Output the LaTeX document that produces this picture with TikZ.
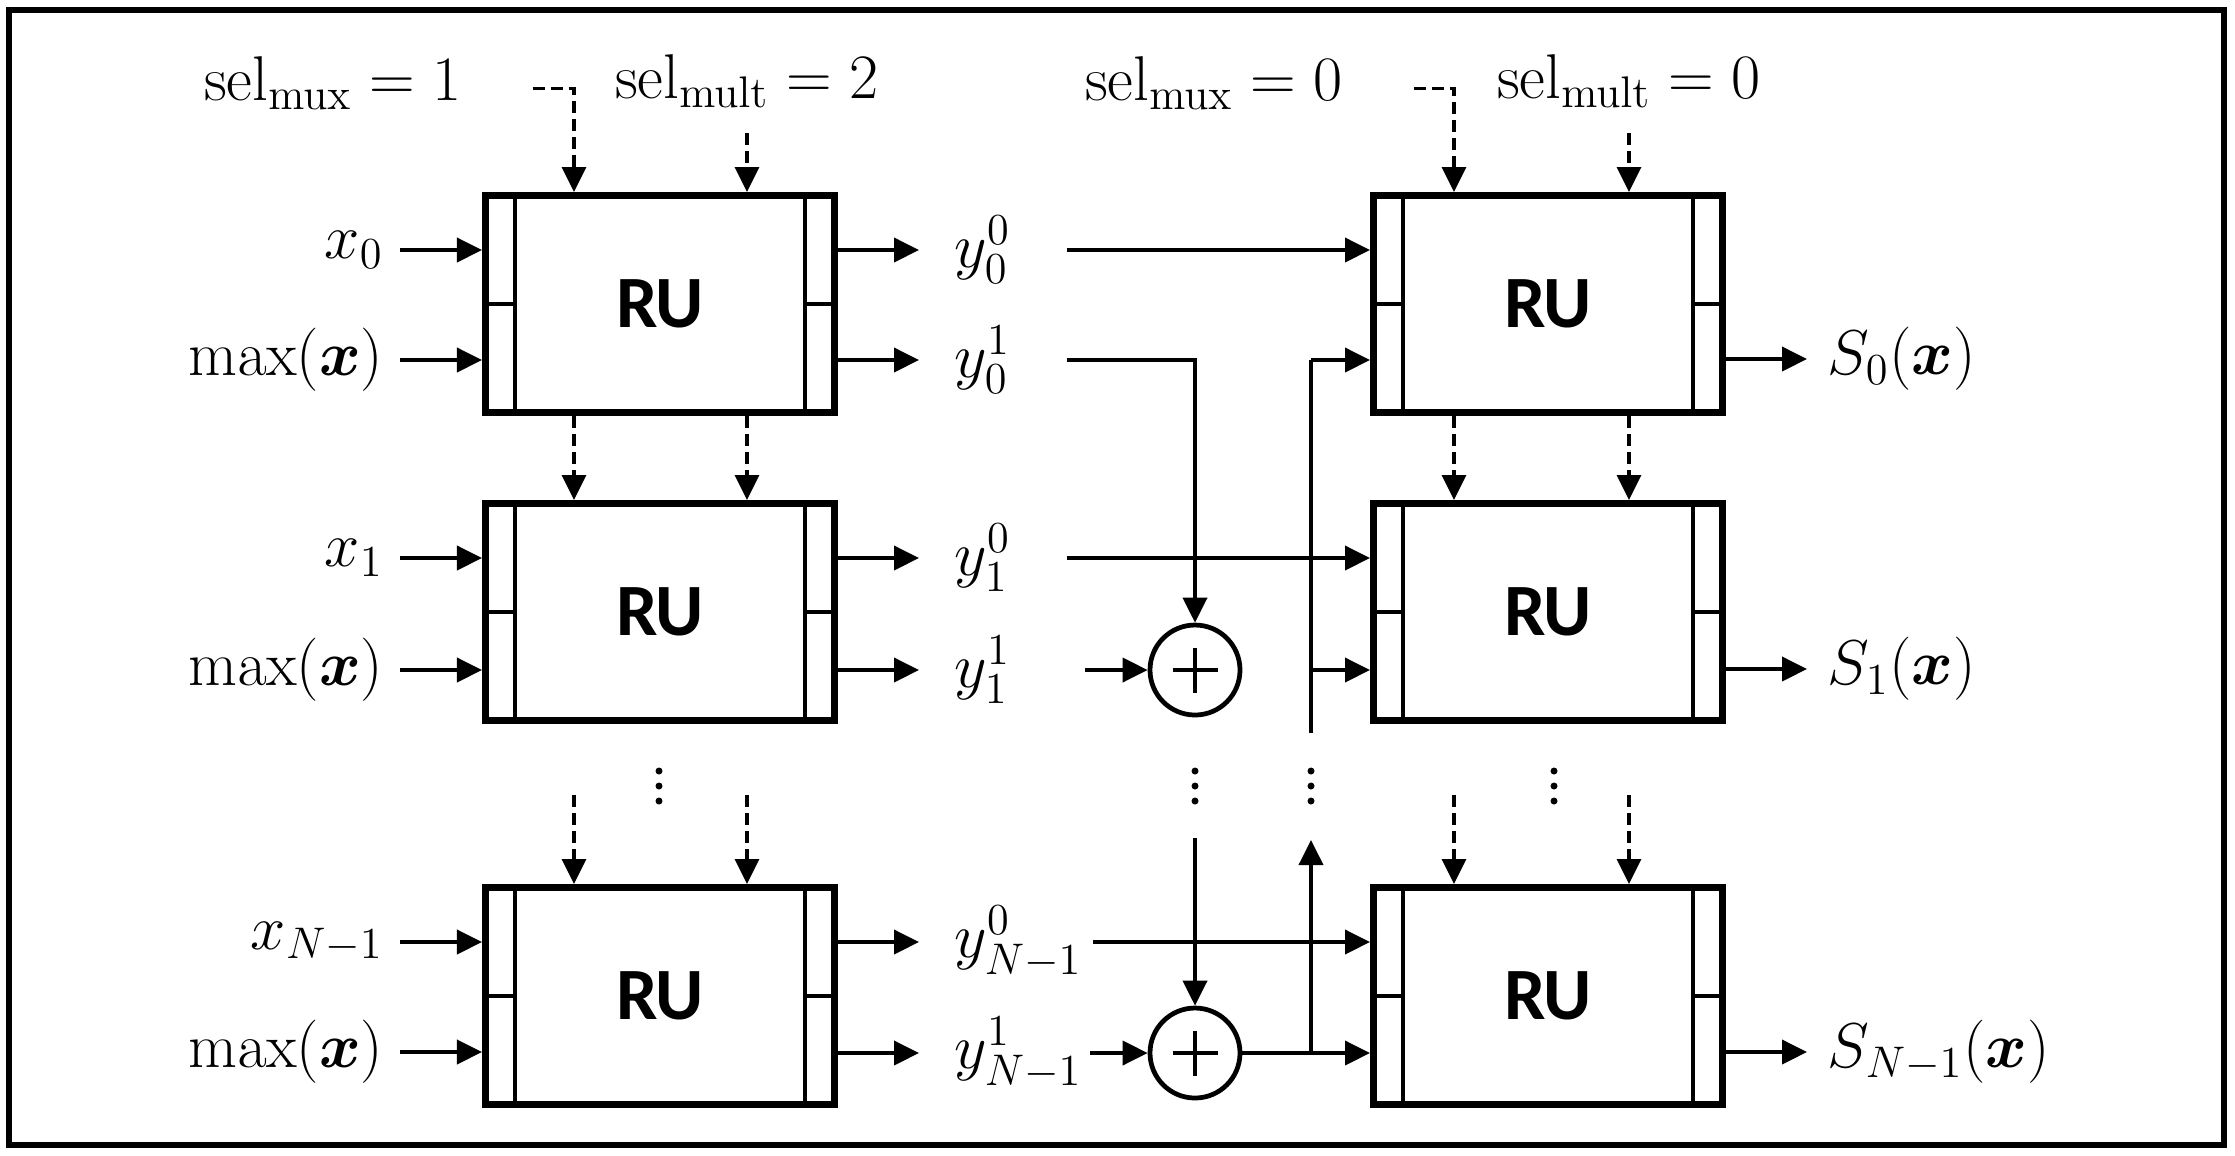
\RequirePackage{fix-cm}
\documentclass[tikz,border=0pt]{standalone}
\usepackage{amsmath}
\usepackage{bm}
\usepackage[no-math]{fontspec}
\newfontfamily\rufont{Carlito}
\usetikzlibrary{arrows.meta}

\begin{document}
\begin{tikzpicture}[x=0.1mm, y=-0.1mm,
		font=\fontsize{18}{22}\selectfont,
		ru/.style={draw, line width=2pt, minimum width=34.9mm, minimum height=21.7mm, inner sep=0pt,
			font=\fontsize{21}{25}\selectfont\rufont\bfseries,
			path picture={
				\draw[line width=1.4pt] ([xshift=2.95mm]path picture bounding box.north west) -- ([xshift=2.95mm]path picture bounding box.south west);
				\draw[line width=1.4pt] ([xshift=-2.95mm]path picture bounding box.north east) -- ([xshift=-2.95mm]path picture bounding box.south east);
				\draw[line width=1.4pt] (path picture bounding box.west) -- ([xshift=2.95mm]path picture bounding box.west);
				\draw[line width=1.4pt] (path picture bounding box.east) -- ([xshift=-2.95mm]path picture bounding box.east);
			}},
		sum/.style={draw, circle, line width=1.35pt, minimum size=9mm, inner sep=0pt,
			path picture={
				\draw[line width=1.1pt] ([xshift=-2.25mm]path picture bounding box.center) -- ([xshift=2.25mm]path picture bounding box.center);
				\draw[line width=1.1pt] ([yshift=-2.25mm]path picture bounding box.center) -- ([yshift=2.25mm]path picture bounding box.center);
			}},
		lab/.style={inner sep=0pt},
		arr/.style={line width=1.1pt, -{Triangle[length=2.5mm, width=2.4mm]}},
		ctrl/.style={arr, line width=0.9pt, dash pattern=on 1.2mm off 0.6mm},
		wire/.style={line width=1.1pt}]
	\useasboundingbox (0,0) rectangle (2235,1155);
	\draw[line width=0.6mm] (9,10) rectangle (2224,1145); % cornice

	\node[ru] (ru1) at (660,304) {RU};
	\node[ru] (ru2) at (660,612) {RU};
	\node[ru] (ru3) at (660,996) {RU};
	\node[ru] (ru4) at (1548,304) {RU};
	\node[ru] (ru5) at (1548,612) {RU};
	\node[ru] (ru6) at (1548,996) {RU};
	\node[sum] (add1) at (1195,670) {};
	\node[sum] (add2) at (1195,1053) {};

	\node[lab, anchor=base] (muxA) at (333,100) {$\mathrm{sel}_{\mathrm{mux}}=1$};
	\node[lab, anchor=base] (multA) at (747,98) {$\mathrm{sel}_{\mathrm{mult}}=2$};
	\node[lab, anchor=base] (muxB) at (1214,100) {$\mathrm{sel}_{\mathrm{mux}}=0$};
	\node[lab, anchor=base] (multB) at (1629,98) {$\mathrm{sel}_{\mathrm{mult}}=0$};
	\coordinate (mA) at (574,0);
	\coordinate (mB) at (1454,0);
	\coordinate (gap) at (0,795);

	\draw[ctrl, shorten <=7mm] ([yshift=-0.6mm]muxA.east) -| (mA |- ru1.north); % mux a RU
	\draw[ctrl, shorten <=2.5mm] (multA) -- (multA |- ru1.north); % mult a RU
	\draw[ctrl] (mA |- ru1.south) -- (mA |- ru2.north);
	\draw[ctrl] (multA |- ru1.south) -- (multA |- ru2.north);
	\draw[ctrl] (mA |- gap) -- (mA |- ru3.north);
	\draw[ctrl] (multA |- gap) -- (multA |- ru3.north);
	\draw[ctrl, shorten <=7mm] ([yshift=-0.6mm]muxB.east) -| (mB |- ru4.north);
	\draw[ctrl, shorten <=2.5mm] (multB) -- (multB |- ru4.north);
	\draw[ctrl] (mB |- ru4.south) -- (mB |- ru5.north);
	\draw[ctrl] (multB |- ru4.south) -- (multB |- ru5.north);
	\draw[ctrl] (mB |- gap) -- (mB |- ru6.north);
	\draw[ctrl] (multB |- gap) -- (multB |- ru6.north);

	\node[lab, anchor=east] (x0) at (384,250) {$x_0$};
	\node[lab, anchor=east] (m0) at (384,360) {$\max(\bm{x})$};
	\node[lab, anchor=east] (x1) at (384,558) {$x_1$};
	\node[lab, anchor=east] (m1) at (384,670) {$\max(\bm{x})$};
	\node[lab, anchor=east] (xN) at (384,942) {$x_{N-1}$};
	\node[lab, anchor=east] (mN) at (384,1052) {$\max(\bm{x})$};
	\draw[arr, shorten <=1.6mm] (x0) -- (x0 -| ru1.west);
	\draw[arr, shorten <=1.6mm] (m0) -- (m0 -| ru1.west);
	\draw[arr, shorten <=1.6mm] (x1) -- (x1 -| ru2.west);
	\draw[arr, shorten <=1.6mm] (m1) -- (m1 -| ru2.west);
	\draw[arr, shorten <=1.6mm] (xN) -- (xN -| ru3.west);
	\draw[arr, shorten <=1.6mm] (mN) -- (mN -| ru3.west);

	\node[lab, anchor=west] (y00) at (954,250) {$y_0^0$};
	\node[lab, anchor=west] (y01) at (954,360) {$y_0^1$};
	\node[lab, anchor=west] (y10) at (954,558) {$y_1^0$};
	\node[lab, anchor=west] (y11) at (954,670) {$y_1^1$};
	\node[lab, anchor=west] (yN0) at (954,942) {$y_{N-1}^0$};
	\node[lab, anchor=west] (yN1) at (954,1053) {$y_{N-1}^1$};
	\draw[arr, shorten >=3.5mm] (y00 -| ru1.east) -- (y00);
	\draw[arr, shorten >=3.5mm] (y01 -| ru1.east) -- (y01);
	\draw[arr, shorten >=3.5mm] (y10 -| ru2.east) -- (y10);
	\draw[arr, shorten >=3.5mm] (y11 -| ru2.east) -- (y11);
	\draw[arr, shorten >=3.5mm] (yN0 -| ru3.east) -- (yN0);
	\draw[arr, shorten >=3.5mm] (yN1 -| ru3.east) -- (yN1);

	\coordinate (tap) at (1067,0);
	\coordinate (tapN) at (1093,0);
	\coordinate (in1) at (1085,0);
	\coordinate (inN) at (1090,0);
	\draw[arr] (y00 -| tap) -- (y00 -| ru4.west); % da y_0^0 a RU
	\draw[arr] (y01 -| tap) -| (add1); % da y_0^1 al sommatore
	\draw[arr] (y10 -| tap) -- (y10 -| ru5.west);
	\draw[arr] (y11 -| in1) -- (add1);
	\draw[arr] (yN0 -| tapN) -- (yN0 -| ru6.west);
	\draw[arr] (yN1 -| inN) -- (add2);

	\coordinate (fb) at (1311,360);
	\coordinate (fbend) at (1311,733);
	\coordinate (fbtip) at (1311,840);
	\coordinate (sumtop) at (1195,838);
	\draw[wire] (fbend) -- (fb); % ritorno
	\draw[arr] (fb) -- (fb -| ru4.west);
	\draw[arr] (fb |- add1) -- (add1 -| ru5.west);
	\draw[arr] (add2) -- (add2 -| ru6.west);
	\draw[arr] (fb |- add2) -- (fbtip);
	\draw[arr] (sumtop) -- (add2);

	\node[lab, anchor=west] (s0) at (1827,359) {$S_0(\bm{x})$};
	\node[lab, anchor=west] (s1) at (1827,669) {$S_1(\bm{x})$};
	\node[lab, anchor=west] (sN) at (1827,1052) {$S_{N-1}(\bm{x})$};
	\draw[arr, shorten >=2mm] (s0 -| ru4.east) -- (s0);
	\draw[arr, shorten >=2mm] (s1 -| ru5.east) -- (s1);
	\draw[arr, shorten >=2mm] (sN -| ru6.east) -- (sN);

	\foreach \xx in {659,1195,1311,1554}
		\foreach \yy in {771,786,801}
			\fill (\xx,\yy) circle (0.35mm); % puntini
\end{tikzpicture}
\end{document}
